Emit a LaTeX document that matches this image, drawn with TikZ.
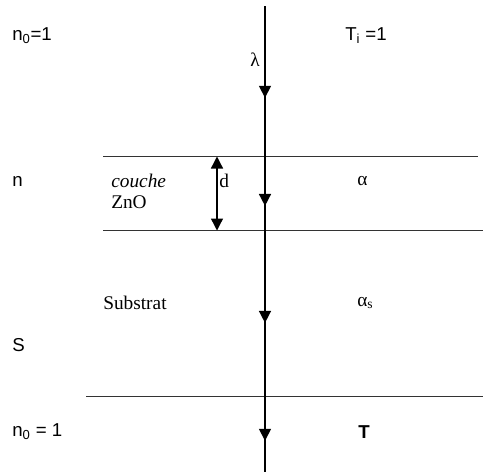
\documentclass[tikz,border=0pt]{standalone}
\usepackage{fontspec}
\setmainfont{Liberation Serif}
\newfontfamily\arialf{Liberation Sans}
\usetikzlibrary{arrows.meta,decorations.markings}
\begin{document}
\begin{tikzpicture}[x=0.75pt,y=-0.75pt,
  sans/.style={font=\arialf\fontsize{14}{16}\selectfont, inner sep=0pt, anchor=west},
  serif/.style={font=\fontsize{14.5}{17}\selectfont, inner sep=0pt, anchor=west},
  layer/.style={line width=1pt, black!80},
  ray/.style={line width=1.2pt, postaction={decorate}, decoration={markings,
    mark=at position 0.197 with {\arrow{Triangle[length=9pt,width=9pt]}},
    mark=at position 0.429 with {\arrow{Triangle[length=9pt,width=9pt]}},
    mark=at position 0.680 with {\arrow{Triangle[length=9pt,width=9pt]}},
    mark=at position 0.933 with {\arrow{Triangle[length=9pt,width=9pt]}}}}]
\useasboundingbox (0,0) rectangle (483,472);
% interfaces
\coordinate (l1a) at (103,156.5); \coordinate (l1b) at (478,156.5);
\coordinate (l2a) at (103,230.5); \coordinate (l2b) at (483,230.5);
\coordinate (l3a) at (86,396.5);  \coordinate (l3b) at (483,396.5);
\draw[layer] (l1a) -- (l1b);
\draw[layer] (l2a) -- (l2b);
\draw[layer] (l3a) -- (l3b);
% ray
\coordinate (top) at (265,6);
\coordinate (bot) at (265,472);
\draw[ray] (top) -- (bot);
% thickness
\coordinate (dtop) at (217,156.5);
\coordinate (dbot) at (217,230.5);
\draw[line width=1pt,{Triangle[length=9pt,width=9pt]}-{Triangle[length=9pt,width=9pt]}] (dtop) -- (dbot);
% labels
\node[sans] (n0) at (12,36) {n\textsubscript{0}=1};
\node[sans] (ti) at (345,36) {T\textsubscript{i} =1};
\node[serif,anchor=center] (lam) at (255,60) {λ};
\node[sans] (n) at (12,181) {n};
\node[serif] (couche) at (111,181) {\itshape couche};
\node[serif] (zno) at (111,202) {ZnO};
\node[serif] (d) at (219,181) {d};
\node[serif] (alpha) at (357,181) {α};
\node[serif] (sub) at (103,303) {Substrat};
\node[serif] (alphas) at (357,303) {α\textsubscript{s}};
\node[sans] (s) at (12,345) {S};
\node[sans] (n0b) at (12,432) {n\textsubscript{0} = 1};
\node[sans,font=\arialf\bfseries\fontsize{14}{16}\selectfont] (t) at (358,432) {T};
\end{tikzpicture}
\end{document}
